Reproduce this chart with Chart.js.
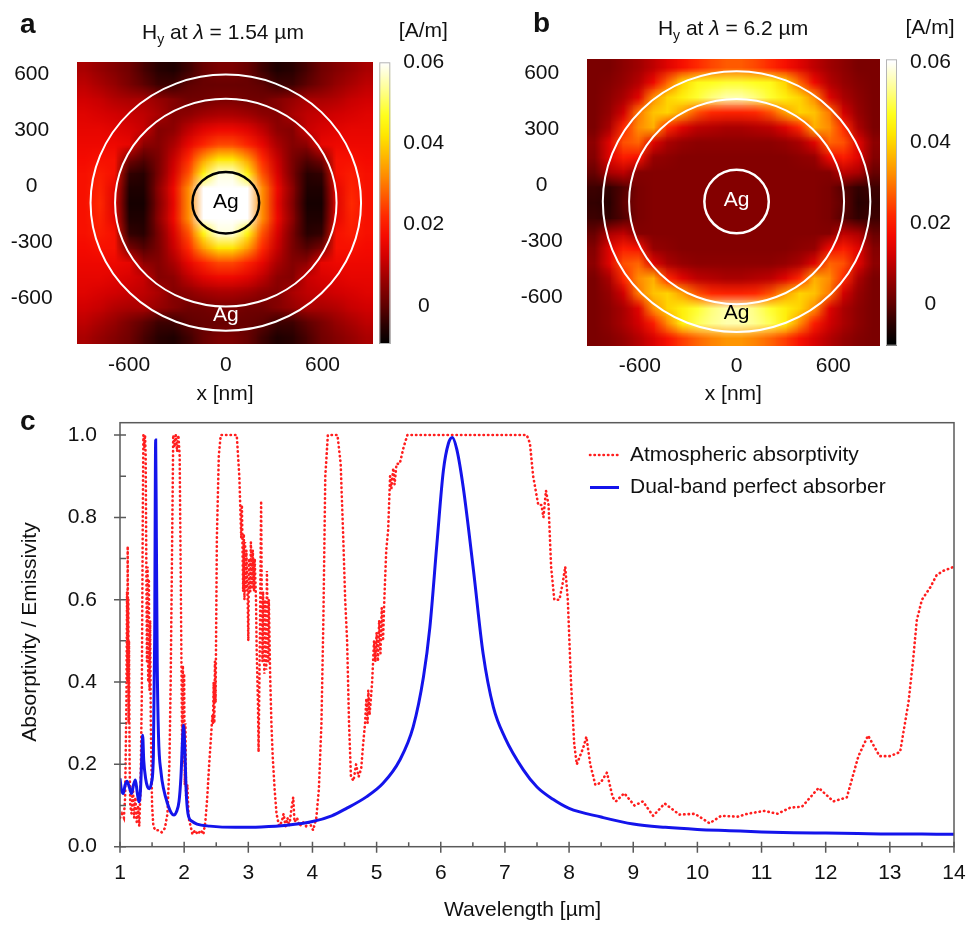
<!DOCTYPE html>
<html lang="en">
<head>
<meta charset="UTF-8">
<title>Hy field maps and absorptivity spectra</title>
<script src="https://cdn.jsdelivr.net/npm/chart.js"></script>
<style>
  body { margin: 0; background: #fff; }
  .panel { position: absolute; }
  #boxA { left: 0; top: 0; width: 480px; height: 410px; }
  #boxB { left: 480px; top: 0; width: 489px; height: 410px; }
  #boxC { left: 0; top: 405px; width: 969px; height: 521px; }
</style>
</head>
<body>
<div class="panel" id="boxA"><canvas id="mapA"></canvas></div>
<div class="panel" id="boxB"><canvas id="mapB"></canvas></div>
<div class="panel" id="boxC"><canvas id="spec"></canvas></div>
<script>
const FONT = "'Liberation Sans', Arial, Helvetica, sans-serif";
Chart.defaults.font.family = FONT;
Chart.defaults.color = '#111';

// ---------- panels a, b : |Hy| maps ----------
const mapWavelengths = [1.54, 6.2];
const mapXTicks = [-600, 0, 600];
const mapYTicks = [600, 300, 0, -300, -600];
const cbTicks = [0, 0.02, 0.04, 0.06];

// field values in 1e-3 A/m, rows from top to bottom, 20 columns
const fieldA = [
  [8, 6, 4, 2, -2, -5, -6, -3, 1, 3, 3, 1, -3, -6, -5, -2, 2, 4, 6, 8],
  [10, 8, 6, 3, 0, -3, -3, 0, 1, 1, 1, 1, 0, -3, -3, 0, 3, 6, 8, 10],
  [12, 11, 9, 8, 8, 6, 4, 2, 2, 3, 3, 2, 2, 4, 6, 8, 8, 9, 11, 12],
  [14, 13, 12, 11, 10, 8, 4, 5, 7, 8, 8, 7, 5, 4, 8, 10, 11, 12, 13, 14],
  [15, 15, 14, 13, 11, 4, 5, 10, 14, 16, 16, 14, 10, 5, 4, 11, 13, 14, 15, 15],
  [16, 16, 16, 15, 5, 4, 8, 15, 21, 25, 25, 21, 15, 8, 4, 5, 15, 16, 16, 16],
  [17, 18, 18, 3, -1, 3, 11, 22, 34, 42, 42, 34, 22, 11, 3, -1, 3, 18, 18, 17],
  [18, 20, 18, -4, -5, 3, 13, 26, 45, 58, 58, 45, 26, 13, 3, -5, -4, 18, 20, 18],
  [18, 21, 15, -6, -6, 5, 16, 32, 60, 60, 60, 60, 32, 16, 5, -6, -6, 15, 21, 18],
  [18, 22, 14, -7, -7, 4, 15, 32, 62, 62, 62, 62, 32, 15, 4, -7, -7, 14, 22, 18],
  [18, 21, 15, -6, -6, 5, 16, 32, 60, 60, 60, 60, 32, 16, 5, -6, -6, 15, 21, 18],
  [18, 20, 18, -4, -5, 3, 13, 26, 45, 58, 58, 45, 26, 13, 3, -5, -4, 18, 20, 18],
  [17, 18, 18, 3, -1, 3, 11, 22, 34, 42, 42, 34, 22, 11, 3, -1, 3, 18, 18, 17],
  [16, 16, 16, 15, 5, 4, 8, 15, 21, 25, 25, 21, 15, 8, 4, 5, 15, 16, 16, 16],
  [15, 15, 14, 13, 11, 4, 5, 10, 14, 16, 16, 14, 10, 5, 4, 11, 13, 14, 15, 15],
  [14, 13, 12, 11, 10, 8, 4, 5, 7, 8, 8, 7, 5, 4, 8, 10, 11, 12, 13, 14],
  [12, 11, 9, 8, 8, 6, 4, 2, 2, 3, 3, 2, 2, 4, 6, 8, 8, 9, 11, 12],
  [10, 8, 6, 3, 0, -3, -3, 0, 1, 1, 1, 1, 0, -3, -3, 0, 3, 6, 8, 10],
  [8, 6, 4, 2, -2, -5, -6, -3, 1, 3, 3, 1, -3, -6, -5, -2, 2, 4, 6, 8]
];

const fieldB = [
  [3, 3, 5, 7, 10, 14, 18, 22, 25, 27, 27, 25, 22, 18, 14, 10, 7, 5, 3, 3],
  [3, 4, 6, 9, 16, 28, 40, 46, 47, 48, 48, 47, 46, 40, 28, 16, 9, 6, 4, 3],
  [3, 5, 8, 14, 32, 40, 44, 48, 52, 55, 55, 52, 48, 44, 40, 32, 14, 8, 5, 3],
  [3, 6, 12, 30, 38, 40, 34, 26, 22, 21, 21, 22, 26, 34, 40, 38, 30, 12, 6, 3],
  [3, 8, 22, 32, 36, 22, 14, 10, 9, 8, 8, 9, 10, 14, 22, 36, 32, 22, 8, 3],
  [5, 14, 26, 28, 14, 8, 6, 5, 5, 5, 5, 5, 5, 6, 8, 14, 28, 26, 14, 5],
  [4, 14, 20, 18, 6, 5, 4, 4, 4, 4, 4, 4, 4, 4, 5, 6, 16, 20, 14, 4],
  [1, 8, 10, 4, 4, 4, 4, 4, 4, 4, 4, 4, 4, 4, 4, 4, 4, 10, 8, 1],
  [-3, -4, -1, 3, 4, 4, 4, 4, 4, 4, 4, 4, 4, 4, 4, 4, 3, -1, -4, -3],
  [-4, -5, 0, 3, 4, 4, 4, 4, 4, 4, 4, 4, 4, 4, 4, 4, 3, 0, -5, -4],
  [-3, -4, -1, 3, 4, 4, 4, 4, 4, 4, 4, 4, 4, 4, 4, 4, 3, -1, -4, -3],
  [1, 8, 10, 4, 4, 4, 4, 4, 4, 4, 4, 4, 4, 4, 4, 4, 4, 10, 8, 1],
  [4, 14, 20, 18, 6, 5, 4, 4, 4, 4, 4, 4, 4, 4, 5, 6, 16, 20, 14, 4],
  [5, 14, 26, 28, 14, 8, 6, 5, 5, 5, 5, 5, 5, 6, 8, 14, 28, 26, 14, 5],
  [3, 8, 22, 32, 36, 22, 14, 10, 9, 8, 8, 9, 10, 14, 22, 36, 32, 22, 8, 3],
  [3, 6, 12, 30, 38, 40, 34, 26, 22, 21, 21, 22, 26, 34, 40, 38, 30, 12, 6, 3],
  [3, 5, 8, 14, 32, 40, 44, 48, 52, 55, 55, 52, 48, 44, 40, 32, 14, 8, 5, 3],
  [3, 5, 8, 12, 20, 32, 44, 50, 53, 55, 55, 53, 50, 44, 32, 20, 12, 8, 5, 3],
  [3, 4, 6, 9, 13, 18, 24, 28, 31, 33, 33, 31, 28, 24, 18, 13, 9, 6, 4, 3]
];

// Ag core and shell outlines in axis units: [cx, cy, rx, ry]
const shellsA = [[0, -90, 207, 165], [0, -90, 687, 557], [0, -90, 839, 687]];
const shellsB = [[0, -90, 200, 170], [0, -90, 667, 550], [0, -90, 830, 698]];
// "Ag" labels: [x, y]
const agLabelsA = [[0, -90], [0, -693]];
const agLabelsB = [[0, -82], [0, -689]];

// ---------- panel c : spectra ----------
const wlTicks = [1, 2, 3, 4, 5, 6, 7, 8, 9, 10, 11, 12, 13, 14];
const wlMinorTicks = [1.5, 2.5, 3.5, 4.5, 5.5, 6.5, 7.5, 8.5, 9.5, 10.5, 11.5, 12.5, 13.5];
const absTicks = [0, 0.2, 0.4, 0.6, 0.8, 1.0];
const absMinorTicks = [0.1, 0.3, 0.5, 0.7, 0.9];

const atmWl = [
  1.00, 1.03, 1.06, 1.08, 1.10, 1.11, 1.115, 1.12, 1.125, 1.13,
  1.135, 1.14, 1.15, 1.16, 1.18, 1.20, 1.22, 1.24, 1.26, 1.28,
  1.30, 1.32, 1.34, 1.355, 1.365, 1.38, 1.39, 1.40, 1.41, 1.42,
  1.43, 1.44, 1.45, 1.46, 1.47, 1.48, 1.50, 1.52, 1.55, 1.60,
  1.65, 1.70, 1.74, 1.77, 1.79, 1.81, 1.83, 1.85, 1.87, 1.89,
  1.91, 1.93, 1.95, 1.96, 1.97, 1.98, 1.99, 2.00, 2.01, 2.02,
  2.03, 2.05, 2.07, 2.10, 2.13, 2.17, 2.21, 2.26, 2.30, 2.33,
  2.36, 2.39, 2.42, 2.44, 2.45, 2.46, 2.47, 2.48, 2.49, 2.51,
  2.54, 2.57, 2.82, 2.86, 2.89, 2.90, 2.92, 2.93, 2.94, 2.95,
  2.96, 2.97, 2.99, 3.00, 3.01, 3.03, 3.04, 3.06, 3.07, 3.09,
  3.10, 3.12, 3.13, 3.15, 3.16, 3.18, 3.20, 3.21, 3.22, 3.23,
  3.25, 3.26, 3.28, 3.29, 3.31, 3.32, 3.34, 3.36, 3.38, 3.41,
  3.44, 3.48, 3.52, 3.55, 3.58, 3.61, 3.64, 3.67, 3.70, 3.72,
  3.76, 3.80, 3.85, 3.90, 3.95, 4.01, 4.06, 4.10, 4.14, 4.17,
  4.20, 4.24, 4.39, 4.44, 4.48, 4.51, 4.54, 4.57, 4.60, 4.64,
  4.68, 4.72, 4.76, 4.79, 4.82, 4.84, 4.86, 4.87, 4.89, 4.91,
  4.93, 4.96, 4.98, 5.00, 5.02, 5.04, 5.06, 5.08, 5.10, 5.12,
  5.15, 5.18, 5.21, 5.23, 5.26, 5.28, 5.31, 5.36, 5.42, 5.48,
  7.34, 7.39, 7.44, 7.52, 7.57, 7.60, 7.64, 7.68, 7.72, 7.77,
  7.81, 7.85, 7.90, 7.94, 7.98, 8.03, 8.08, 8.12, 8.17, 8.22,
  8.27, 8.33, 8.41, 8.49, 8.59, 8.68, 8.73, 8.86, 9.02, 9.15,
  9.31, 9.49, 9.72, 9.96, 10.19, 10.37, 10.63, 10.78, 11.04, 11.25,
  11.45, 11.63, 11.89, 12.12, 12.33, 12.51, 12.66, 12.84, 13.00, 13.16,
  13.29, 13.36, 13.42, 13.50, 13.63, 13.73, 13.83, 14.00
];
const atmVal = [
  0.07, 0.08, 0.07, 0.12, 0.35, 0.62, 0.40, 0.73, 0.45, 0.60,
  0.30, 0.50, 0.20, 0.10, 0.08, 0.15, 0.07, 0.12, 0.06, 0.10,
  0.05, 0.14, 0.37, 0.80, 1.00, 0.97, 1.00, 0.95, 0.70, 0.45,
  0.68, 0.40, 0.65, 0.38, 0.55, 0.30, 0.10, 0.05, 0.04, 0.04,
  0.035, 0.045, 0.08, 0.20, 0.40, 0.70, 1.00, 0.97, 1.00, 0.96,
  1.00, 0.95, 0.60, 0.40, 0.20, 0.44, 0.25, 0.42, 0.15, 0.30,
  0.12, 0.15, 0.07, 0.05, 0.03, 0.04, 0.03, 0.04, 0.03, 0.06,
  0.12, 0.20, 0.27, 0.32, 0.30, 0.40, 0.30, 0.45, 0.35, 0.75,
  0.95, 1.00, 1.00, 0.90, 0.75, 0.83, 0.62, 0.76, 0.60, 0.74,
  0.62, 0.72, 0.60, 0.50, 0.70, 0.62, 0.74, 0.63, 0.72, 0.62,
  0.70, 0.60, 0.48, 0.35, 0.23, 0.50, 0.84, 0.60, 0.45, 0.62,
  0.42, 0.60, 0.43, 0.67, 0.45, 0.60, 0.42, 0.30, 0.22, 0.14,
  0.08, 0.05, 0.06, 0.08, 0.05, 0.07, 0.05, 0.09, 0.12, 0.06,
  0.07, 0.05, 0.06, 0.05, 0.06, 0.04, 0.07, 0.14, 0.30, 0.55,
  0.90, 1.00, 1.00, 0.93, 0.75, 0.60, 0.50, 0.30, 0.17, 0.16,
  0.20, 0.17, 0.19, 0.25, 0.30, 0.36, 0.30, 0.38, 0.32, 0.36,
  0.40, 0.50, 0.45, 0.52, 0.45, 0.55, 0.47, 0.58, 0.50, 0.60,
  0.72, 0.77, 0.90, 0.87, 0.92, 0.88, 0.93, 0.93, 0.97, 1.00,
  1.00, 0.98, 0.90, 0.83, 0.83, 0.80, 0.865, 0.83, 0.68, 0.60,
  0.60, 0.60, 0.64, 0.68, 0.60, 0.40, 0.25, 0.20, 0.22, 0.24,
  0.267, 0.20, 0.15, 0.155, 0.18, 0.12, 0.11, 0.13, 0.10, 0.11,
  0.075, 0.105, 0.078, 0.08, 0.057, 0.075, 0.073, 0.08, 0.087, 0.08,
  0.095, 0.097, 0.143, 0.11, 0.12, 0.22, 0.27, 0.22, 0.22, 0.23,
  0.35, 0.45, 0.55, 0.60, 0.63, 0.66, 0.67, 0.68
];

const absWl = [
  1.00, 1.02, 1.05, 1.08, 1.11, 1.145, 1.18, 1.21, 1.24, 1.27,
  1.296, 1.32, 1.34, 1.353, 1.37, 1.40, 1.43, 1.457, 1.49, 1.52,
  1.54, 1.556, 1.567, 1.58, 1.60, 1.64, 1.68, 1.74, 1.80, 1.84,
  1.88, 1.92, 1.95, 1.975, 1.99, 2.01, 2.03, 2.06, 2.12, 2.20,
  2.40, 2.80, 3.20, 3.60, 4.00, 4.30, 4.53, 4.84, 5.10, 5.36,
  5.57, 5.73, 5.83, 5.94, 6.04, 6.12, 6.18, 6.25, 6.35, 6.51,
  6.66, 6.82, 7.00, 7.29, 7.50, 7.75, 8.00, 8.50, 9.00, 9.50,
  10.0, 10.5, 11.0, 11.5, 12.0, 12.5, 13.0, 13.5, 14.0
];
const absVal = [
  0.166, 0.14, 0.129, 0.15, 0.159, 0.145, 0.129, 0.15, 0.162, 0.13,
  0.109, 0.14, 0.22, 0.271, 0.21, 0.165, 0.145, 0.141, 0.155, 0.22,
  0.50, 0.988, 0.75, 0.45, 0.27, 0.18, 0.14, 0.105, 0.082, 0.077,
  0.085, 0.11, 0.17, 0.26, 0.295, 0.24, 0.14, 0.08, 0.062, 0.055,
  0.05, 0.047, 0.048, 0.052, 0.061, 0.075, 0.093, 0.121, 0.154, 0.21,
  0.291, 0.412, 0.533, 0.736, 0.913, 0.98, 0.994, 0.965, 0.873, 0.671,
  0.469, 0.339, 0.265, 0.186, 0.145, 0.115, 0.093, 0.072, 0.055, 0.047,
  0.042, 0.039, 0.036, 0.034, 0.033, 0.032, 0.031, 0.031, 0.030
];

// ---------- colour map (hot), stops in 1e-3 A/m ----------
const hotStops = [
  [-9.4, [0, 0, 0]], [-5, [40, 0, 0]], [0, [95, 0, 0]], [6, [150, 0, 0]],
  [12, [210, 0, 0]], [17, [245, 10, 0]], [22, [255, 40, 0]], [27, [255, 90, 0]],
  [32, [255, 140, 0]], [37, [255, 185, 0]], [42, [255, 230, 0]], [47, [255, 255, 30]],
  [53, [255, 255, 140]], [60, [255, 255, 255]]
];
function hot(v) {
  if (v <= hotStops[0][0]) return hotStops[0][1];
  for (let i = 1; i < hotStops.length; i++) {
    const [v1, c1] = hotStops[i];
    if (v <= v1) {
      const [v0, c0] = hotStops[i - 1];
      const f = (v - v0) / (v1 - v0);
      return c0.map((c, k) => Math.round(c + (c1[k] - c) * f));
    }
  }
  return hotStops[hotStops.length - 1][1];
}

// keep the chart areas where they are placed, no extra room for edge labels
function noEdgePadding(s) {
  s.paddingTop = 0; s.paddingBottom = 0; s.paddingLeft = 0; s.paddingRight = 0;
}

function drawHyTitle(ctx, cx, baseY, wl) {
  const parts = [
    { t: 'H', f: `21px ${FONT}`, dy: 0 },
    { t: 'y', f: `14px ${FONT}`, dy: 5 },
    { t: ' at ', f: `21px ${FONT}`, dy: 0 },
    { t: 'λ', f: `italic 21px ${FONT}`, dy: 0 },
    { t: ` = ${wl} µm`, f: `21px ${FONT}`, dy: 0 }
  ];
  let w = 0;
  parts.forEach(p => { ctx.font = p.f; p.w = ctx.measureText(p.t).width; w += p.w; });
  let x = cx - w / 2;
  ctx.textAlign = 'left';
  ctx.textBaseline = 'alphabetic';
  ctx.fillStyle = '#111';
  parts.forEach(p => { ctx.font = p.f; ctx.fillText(p.t, x, baseY + p.dy); x += p.w; });
}

function mapPlugin(field, shells, agLabels, look) {
  return {
    id: 'fieldMap',
    beforeDatasetsDraw(chart) {
      const { ctx, scales: { x, y } } = chart;
      const rows = field.length, cols = field[0].length;
      const off = document.createElement('canvas');
      off.width = cols; off.height = rows;
      const octx = off.getContext('2d');
      const img = octx.createImageData(cols, rows);
      field.forEach((row, j) => row.forEach((v, i) => {
        const c = hot(v), k = (j * cols + i) * 4;
        img.data[k] = c[0]; img.data[k + 1] = c[1]; img.data[k + 2] = c[2]; img.data[k + 3] = 255;
      }));
      octx.putImageData(img, 0, 0);
      const l = x.getPixelForValue(x.min), r = x.getPixelForValue(x.max);
      const t = y.getPixelForValue(y.max), b = y.getPixelForValue(y.min);
      ctx.save();
      ctx.imageSmoothingEnabled = true;
      ctx.drawImage(off, l, t, r - l, b - t);
      ctx.restore();
    },
    afterDraw(chart) {
      const { ctx, chartArea: ca, scales: { x, y, cb } } = chart;
      ctx.save();
      // shells
      shells.forEach(([cx, cy, rx, ry], i) => {
        const px = x.getPixelForValue(cx), py = y.getPixelForValue(cy);
        const prx = x.getPixelForValue(cx + rx) - px;
        const pry = py - y.getPixelForValue(cy + ry);
        ctx.beginPath();
        ctx.ellipse(px, py, prx, pry, 0, 0, Math.PI * 2);
        ctx.strokeStyle = look.shellColors[i];
        ctx.lineWidth = i === 0 ? 2.5 : 2;
        ctx.stroke();
      });
      ctx.font = `21px ${FONT}`;
      ctx.textAlign = 'center';
      ctx.textBaseline = 'middle';
      agLabels.forEach(([lx, ly], i) => {
        ctx.fillStyle = look.agColors[i];
        ctx.fillText('Ag', x.getPixelForValue(lx), y.getPixelForValue(ly));
      });
      // colour bar
      const cbL = ca.right + 6, cbW = 11;
      for (let py = Math.floor(cb.top); py < Math.ceil(cb.bottom); py++) {
        const c = hot(cb.getValueForPixel(py + 0.5) * 1000);
        ctx.fillStyle = `rgb(${c[0]},${c[1]},${c[2]})`;
        ctx.fillRect(cbL, py, cbW, 1);
      }
      ctx.strokeStyle = '#b5b5b5';
      ctx.lineWidth = 1;
      ctx.strokeRect(cbL + 0.5, cb.top + 0.5, cbW - 1, cb.bottom - cb.top - 1);
      // texts
      drawHyTitle(ctx, look.titleX, look.titleY, look.wl);
      ctx.fillStyle = '#111';
      ctx.font = `21px ${FONT}`;
      ctx.textAlign = 'center';
      ctx.textBaseline = 'alphabetic';
      ctx.fillText('[A/m]', ca.right + 50, look.unitY);
      ctx.fillText('x [nm]', (ca.left + ca.right) / 2, look.xTitleY);
      ctx.font = `bold 28px ${FONT}`;
      ctx.textAlign = 'left';
      ctx.fillText(look.letter, look.letterX, look.letterY);
      ctx.restore();
    }
  };
}

function makeMap(id, field, shells, agLabels, range, look) {
  const tickFont = { size: 21 };
  return new Chart(document.getElementById(id), {
    type: 'scatter',
    data: { datasets: [] },
    options: {
      responsive: true, maintainAspectRatio: false, animation: false,
      layout: { padding: { top: look.padTop, left: 0, right: 0, bottom: 0 } },
      plugins: { legend: { display: false }, tooltip: { enabled: false } },
      scales: {
        x: {
          type: 'linear', min: range.x[0], max: range.x[1],
          grid: { display: false, drawTicks: false }, border: { display: false },
          ticks: { font: tickFont, color: '#111', padding: 8.4, autoSkip: false, maxRotation: 0 },
          afterBuildTicks: s => { s.ticks = mapXTicks.map(v => ({ value: v })); },
          afterFit: s => { s.height = look.xH; noEdgePadding(s); }
        },
        y: {
          type: 'linear', position: 'left', min: range.y[0], max: range.y[1],
          grid: { display: false, drawTicks: false }, border: { display: false },
          ticks: { font: tickFont, color: '#111', padding: 24, crossAlign: 'center', autoSkip: false },
          afterBuildTicks: s => { s.ticks = mapYTicks.map(v => ({ value: v })); },
          afterFit: s => { s.width = look.yW; noEdgePadding(s); }
        },
        cb: {
          type: 'linear', position: 'right', min: range.cb[0], max: range.cb[1],
          grid: { display: false, drawTicks: false }, border: { display: false },
          ticks: {
            font: tickFont, color: '#111', padding: 30, crossAlign: 'center', autoSkip: false,
            callback: v => (v === 0 ? '0' : v.toFixed(2))
          },
          afterBuildTicks: s => { s.ticks = cbTicks.map(v => ({ value: v })); },
          afterFit: s => { s.width = look.cbW; noEdgePadding(s); }
        }
      }
    },
    plugins: [mapPlugin(field, shells, agLabels, look)]
  });
}

makeMap('mapA', fieldA, shellsA, agLabelsA,
  { x: [-925, 915], y: [-848, 663], cb: [-0.0094, 0.06] },
  { padTop: 62.3, yW: 76.7, cbW: 106.7, xH: 66, titleX: 223, titleY: 39, unitY: 37,
    xTitleY: 400, letter: 'a', letterX: 20, letterY: 33, wl: mapWavelengths[0],
    shellColors: ['#000', '#fff', '#fff'], agColors: ['#000', '#fff'] });

makeMap('mapB', fieldB, shellsB, agLabelsB,
  { x: [-930, 890], y: [-862, 672], cb: [-0.0103, 0.0606] },
  { padTop: 59.3, yW: 106.7, cbW: 89, xH: 64.3, titleX: 253, titleY: 35, unitY: 34,
    xTitleY: 400, letter: 'b', letterX: 53, letterY: 32, wl: mapWavelengths[1],
    shellColors: ['#fff', '#fff', '#fff'], agColors: ['#fff', '#000'] });

// ---------- panel c ----------
const AXIS = '#5a5a5a';
const framePlugin = {
  id: 'frame',
  afterDatasetsDraw(chart) {
    const { ctx, chartArea: ca, scales: { x, y } } = chart;
    ctx.save();
    ctx.strokeStyle = AXIS;
    ctx.lineWidth = 1.5;
    ctx.strokeRect(ca.left, ca.top, ca.right - ca.left, ca.bottom - ca.top);
    ctx.beginPath();
    wlTicks.forEach(v => { const p = x.getPixelForValue(v); ctx.moveTo(p, ca.bottom - 5); ctx.lineTo(p, ca.bottom + 6); });
    wlMinorTicks.forEach(v => { const p = x.getPixelForValue(v); ctx.moveTo(p, ca.bottom - 4.5); ctx.lineTo(p, ca.bottom); });
    absTicks.forEach(v => { const p = y.getPixelForValue(v); ctx.moveTo(ca.left - 6, p); ctx.lineTo(ca.left + 6, p); });
    absMinorTicks.forEach(v => { const p = y.getPixelForValue(v); ctx.moveTo(ca.left, p); ctx.lineTo(ca.left + 6, p); });
    ctx.stroke();
    ctx.restore();
  },
  afterDraw(chart) {
    const { ctx, chartArea: ca } = chart;
    ctx.save();
    // legend
    ctx.font = `21px ${FONT}`;
    ctx.textBaseline = 'middle';
    ctx.textAlign = 'left';
    chart.data.datasets.forEach((ds, i) => {
      const ly = ca.top + 32.3 + i * 32.5;
      ctx.beginPath();
      ctx.strokeStyle = ds.borderColor;
      ctx.lineWidth = ds.borderWidth;
      ctx.lineCap = ds.borderCapStyle || 'butt';
      ctx.setLineDash(ds.borderDash || []);
      ctx.moveTo(ca.left + 470, ly);
      ctx.lineTo(ca.left + 499, ly);
      ctx.stroke();
      ctx.setLineDash([]);
      ctx.fillStyle = '#111';
      ctx.fillText(ds.label, ca.left + 510, ly);
    });
    // axis titles
    ctx.textAlign = 'center';
    ctx.fillText('Wavelength [µm]', 522.5, 505);
    ctx.save();
    ctx.translate(30, 227);
    ctx.rotate(-Math.PI / 2);
    ctx.fillText('Absorptivity / Emissivity', 0, 0);
    ctx.restore();
    ctx.font = `bold 28px ${FONT}`;
    ctx.textAlign = 'left';
    ctx.textBaseline = 'alphabetic';
    ctx.fillText('c', 20, 25);
    ctx.restore();
  }
};

new Chart(document.getElementById('spec'), {
  type: 'line',
  data: {
    datasets: [
      {
        label: 'Atmospheric absorptivity',
        data: atmWl.map((w, i) => ({ x: w, y: atmVal[i] })),
        borderColor: '#ff1e1e', borderWidth: 2.6, borderDash: [0.4, 4.1], borderCapStyle: 'round',
        pointRadius: 0, tension: 0, order: 2
      },
      {
        label: 'Dual-band perfect absorber',
        data: absWl.map((w, i) => ({ x: w, y: absVal[i] })),
        borderColor: '#1414eb', borderWidth: 3,
        pointRadius: 0, cubicInterpolationMode: 'monotone', order: 1
      }
    ]
  },
  options: {
    responsive: true, maintainAspectRatio: false, animation: false,
    layout: { padding: { top: 17.7, right: 15, left: 0, bottom: 0 } },
    plugins: { legend: { display: false }, tooltip: { enabled: false } },
    scales: {
      x: {
        type: 'linear', min: 1, max: 14,
        grid: { display: false, drawTicks: false }, border: { display: false },
        ticks: { font: { size: 21 }, color: '#111', padding: 14, autoSkip: false, maxRotation: 0 },
        afterBuildTicks: s => { s.ticks = wlTicks.map(v => ({ value: v })); },
        afterFit: s => { s.height = 79.3; noEdgePadding(s); }
      },
      y: {
        type: 'linear', min: 0, max: 1.03,
        grid: { display: false, drawTicks: false }, border: { display: false },
        ticks: { font: { size: 21 }, color: '#111', padding: 23, callback: v => v.toFixed(1) },
        afterBuildTicks: s => { s.ticks = absTicks.map(v => ({ value: v })); },
        afterFit: s => { s.width = 120; noEdgePadding(s); }
      }
    }
  },
  plugins: [framePlugin]
});
</script>
</body>
</html>
